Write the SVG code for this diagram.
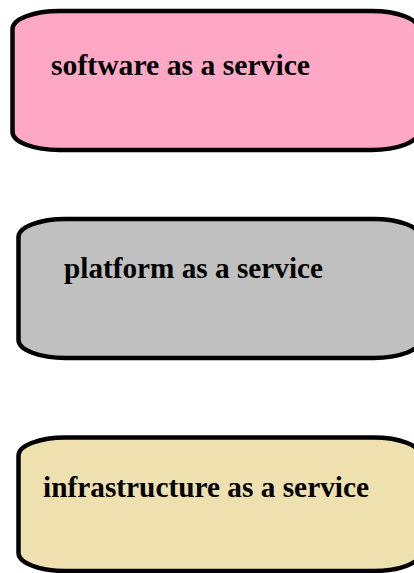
<svg xmlns="http://www.w3.org/2000/svg" width="414" height="573" viewBox="0 0 414 573">
<style>
.box{stroke:#000;stroke-width:4.5}
.lbl{font-family:"Liberation Serif","Times New Roman",serif;font-weight:bold;font-size:29px;fill:#000}
</style>
<rect width="414" height="573" fill="#fff"/>
<g id="saas">
<rect class="box" x="12.5" y="11" width="406" height="139" rx="47" ry="18" fill="#FFA8C6"/>
<text class="lbl" x="51" y="75" textLength="259" lengthAdjust="spacingAndGlyphs">software as a service</text>
</g>
<g id="paas">
<rect class="box" x="18.5" y="219" width="402" height="139" rx="47" ry="18" fill="#C0C0C0"/>
<text class="lbl" x="64" y="278" textLength="259" lengthAdjust="spacingAndGlyphs">platform as a service</text>
</g>
<g id="iaas">
<rect class="box" x="18.5" y="437.5" width="402" height="133.5" rx="47" ry="18" fill="#EEE1AF"/>
<text class="lbl" x="43" y="497" textLength="326" lengthAdjust="spacingAndGlyphs">infrastructure as a service</text>
</g>
<g id="connectors"></g>
</svg>
